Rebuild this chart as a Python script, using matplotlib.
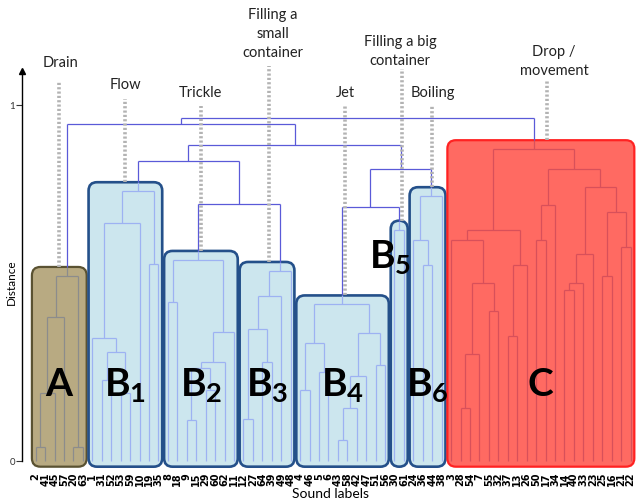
import matplotlib
matplotlib.use("Agg")
import matplotlib.pyplot as plt
from matplotlib.patches import FancyBboxPatch

plt.rcParams['font.family'] = ['Lato', 'DejaVu Sans']
plt.rcParams['mathtext.fontset'] = 'custom'
plt.rcParams['mathtext.bf'] = 'Lato:bold'
plt.rcParams['mathtext.rm'] = 'Lato'

# ---------------- data: cluster sub-trees (left, right, merge distance) ----------------
tree_A = ((((2, 41, 0.04), 45, 0.19), 57, 0.404), (20, 63, 0.04), 0.52)
tree_B1 = (((1, ((31, 52, 0.228), (53, 59, 0.19), 0.306), 0.346), 10, 0.669), (19, 35, 0.553), 0.758)
tree_B2 = ((8, 18, 0.447), ((((9, 15, 0.115), (29, 60, 0.2), 0.261), 62, 0.278), 11, 0.362), 0.565)
tree_B3 = ((((12, 27, 0.118), (64, 39, 0.278), 0.371), 49, 0.463), 48, 0.534)
tree_B4 = (((4, 46, 0.2), (5, 6, 0.25), 0.33),
           ((((43, 58, 0.06), 42, 0.15), 47, 0.24), (51, 56, 0.27), 0.36), 0.44)
tree_B5 = (30, 61, 0.65)
tree_B6 = ((24, (36, 44, 0.55), 0.62), 38, 0.744)
tree_C = (((3, (((28, 54, 0.15), 7, 0.3), (55, 32, 0.42), 0.5), 0.62), ((37, 13, 0.35), 26, 0.55), 0.65),
          (((50, 17, 0.62), 34, 0.72),
           ((((14, 40, 0.48), 33, 0.5), 23, 0.58), ((25, 16, 0.52), (21, 22, 0.6), 0.7), 0.77), 0.82),
          0.876)

# top-level joins between the clusters
top_tree = (('A', (('B1', ('B2', 'B3', 0.722), 0.843),
                   (('B4', 'B5', 0.713), 'B6', 0.820), 0.888), 0.947), 'C', 0.963)

cluster_names = ['A', 'B1', 'B2', 'B3', 'B4', 'B5', 'B6', 'C']
cluster_trees = [tree_A, tree_B1, tree_B2, tree_B3, tree_B4, tree_B5, tree_B6, tree_C]
cluster_tags = [r'$\mathbf{A}$', r'$\mathbf{B_1}$', r'$\mathbf{B_2}$', r'$\mathbf{B_3}$',
                r'$\mathbf{B_4}$', r'$\mathbf{B_5}$', r'$\mathbf{B_6}$', r'$\mathbf{C}$']
cluster_notes = ['Drain', 'Flow', 'Trickle', 'Filling a\nsmall\ncontainer', 'Jet',
                 'Filling a big\ncontainer', 'Boiling', 'Drop /\nmovement']

# ---------------- styles ----------------
kind = {'A': 'A', 'C': 'C'}
fill = {'A': '#b8aa82', 'B': '#cce6ee', 'C': '#ff6a62'}
edge = {'A': '#5a5232', 'B': '#24508a', 'C': '#ff2222'}
inner = {'A': '#8c8c8c', 'B': '#9db2f2', 'C': '#d8505a'}
edge_lw = {'A': 1.6, 'B': 1.9, 'C': 1.6}
top_col = '#5a5ad8'
box_pad = 0.025

clusters = dict(zip(cluster_names, cluster_trees))
def kof(n):
    return kind.get(n, 'B')

leaf_labels = []
segs = []
span = {}

def walk(node, color):
    if isinstance(node, str):
        start = len(leaf_labels)
        x, h, _ = walk(clusters[node], inner[kof(node)])
        span[node] = (start, len(leaf_labels) - 1, h)
        return x, h, inner[kof(node)]
    if not isinstance(node, tuple):
        leaf_labels.append(str(node))
        return len(leaf_labels) - 1, 0.0, None
    l, r, h = node
    xl, hl, cl = walk(l, color)
    xr, hr, cr = walk(r, color)
    for x, hc, cc in ((xl, hl, cl), (xr, hr, cr)):
        if cc is not None:
            segs.append(([x, x], [hc, hc + box_pad], cc))
            segs.append(([x, x], [hc + box_pad, h], color))
        else:
            segs.append(([x, x], [hc, h], color))
    segs.append(([xl, xr], [h, h], color))
    return (xl + xr) / 2, h, None

walk(top_tree, top_col)

# ---------------- figure ----------------
W, H = 640, 502
fig = plt.figure(figsize=(W / 100, H / 100), dpi=100)
ax_l, ax_r, ax_t, ax_b = 22, 640, 70, 470
ax = fig.add_axes([ax_l / W, (H - ax_b) / H, (ax_r - ax_l) / W, (ax_b - ax_t) / H])
x0, x1 = -1.45, 64.0
y0, y1 = -0.0225, 1.101
ax.set_xlim(x0, x1)
ax.set_ylim(y0, y1)
asp = ((y1 - y0) / (ax_b - ax_t)) / ((x1 - x0) / (ax_r - ax_l))

for name, tag, note in zip(cluster_names, cluster_tags, cluster_notes):
    s, e, h = span[name]
    k = kof(name)
    gap = 0.1
    box = FancyBboxPatch((s - 0.5 + gap, -0.016), e - s + 1 - 2 * gap, h + box_pad + 0.016,
                         boxstyle="round,pad=0,rounding_size=0.9", mutation_aspect=asp,
                         fc=fill[k], ec=edge[k], lw=edge_lw[k], zorder=1)
    ax.add_patch(box)
    cx = (s + e) / 2
    if name == 'B5':
        ax.text(s - 0.5, 0.575, tag, fontsize=28, ha='center', va='center', zorder=4)
    else:
        ax.text(cx, 0.215, tag, fontsize=28, ha='center', va='center', zorder=4)

for xs, ys, c in segs:
    ax.plot(xs, ys, color=c, lw=0.9, zorder=2, solid_capstyle='butt')

# annotations with dotted leader lines
note_y = {'A': 1.121, 'B1': 1.059, 'B2': 1.037, 'B3': 1.202, 'B4': 1.037,
          'B5': 1.154, 'B6': 1.037, 'C': 1.126}
line_top = {'A': 1.067, 'B1': 1.017, 'B2': 0.997, 'B3': 1.11, 'B4': 0.997,
            'B5': 1.10, 'B6': 0.997, 'C': 1.067}
note_dx = {'A': 0.1, 'B1': 0.0, 'B2': 0.0, 'B3': 0.6, 'B4': 0.3, 'B5': 0.1, 'B6': 0.6, 'C': 1.4}
line_dx = {'A': 0.0, 'B1': 0.0, 'B2': 0.0, 'B3': 0.2, 'B4': 0.3, 'B5': 0.3, 'B6': 0.5, 'C': 0.7}
for name, note in zip(cluster_names, cluster_notes):
    s, e, h = span[name]
    cx = (s + e) / 2
    ax.plot([cx + line_dx[name]] * 2, [h + box_pad, line_top[name]], color='#b3b3b3', lw=2.6,
            ls=(0, (0.6, 0.6)), zorder=3, clip_on=False)
    ax.text(cx + note_dx[name], note_y[name], note, fontsize=10.5, ha='center', va='center',
            linespacing=1.45, color='#222222', clip_on=False)

# axes styling
for sp in ['top', 'right', 'bottom']:
    ax.spines[sp].set_visible(False)
ax.spines['left'].set_bounds(0, 1.095)
ax.spines['left'].set_linewidth(1.0)
ax.plot([x0], [1.095], marker='^', color='black', ms=5, clip_on=False, zorder=5)
ax.set_yticks([0, 1])
ax.set_yticklabels(['0', '1'], fontsize=7, color='#333333')
ax.tick_params(axis='y', length=4, width=0.8, pad=1, colors='#333333')
ax.set_xticks(range(len(leaf_labels)))
ax.set_xticklabels(leaf_labels, rotation=90, fontsize=7, fontweight='bold',
                   family='DejaVu Sans')
ax.tick_params(axis='x', length=0, pad=2)
ax.set_ylabel('Distance', fontsize=8.5, va='center')
ax.yaxis.set_label_coords(-0.0165, 0.47)
ax.set_xlabel('Sound labels', fontsize=10, labelpad=1)

fig.savefig('out.png', dpi=100)
